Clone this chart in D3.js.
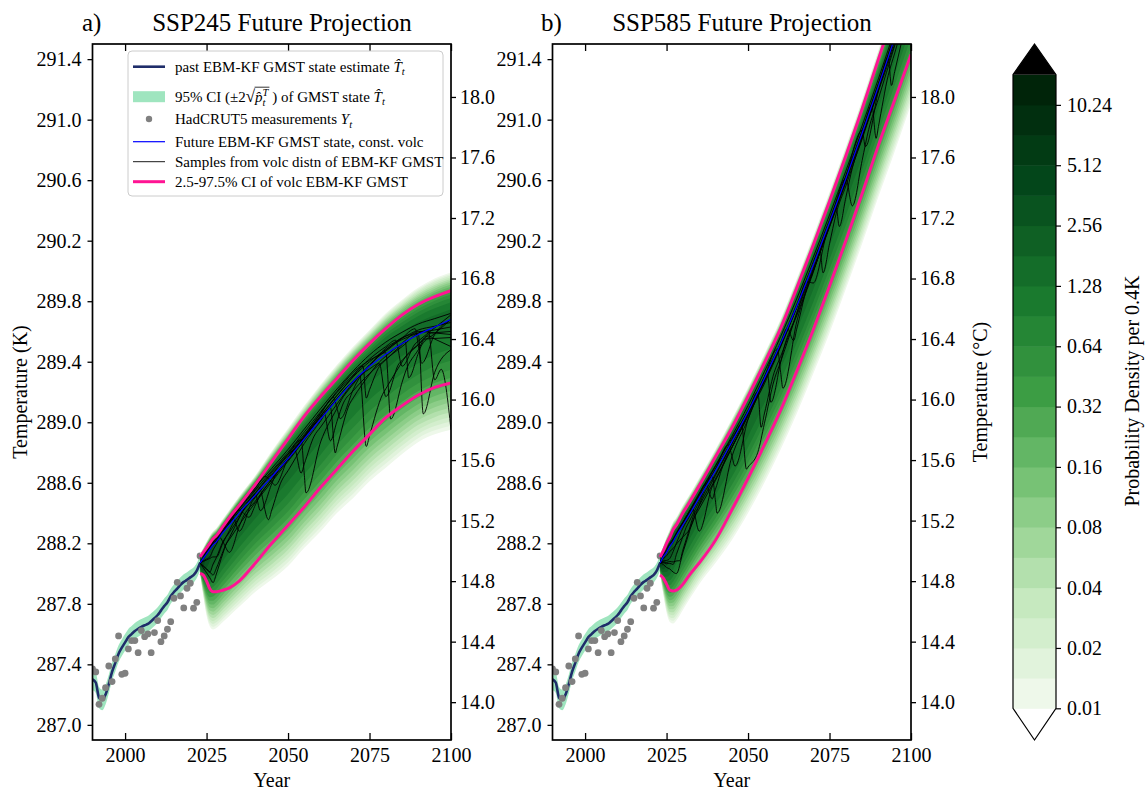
<!DOCTYPE html>
<html>
<head>
<meta charset="utf-8">
<script src="https://cdn.jsdelivr.net/npm/d3@7"></script>
<style>
body { margin: 0; background: #fff; }
text { font-family: "Liberation Serif", "Times New Roman", "DejaVu Serif", serif; fill: #000; white-space: pre; }
</style>
</head>
<body>
<div id="chart"></div>
<script>
// ---------- data ----------
var obsYears = [1990,1991,1992,1993,1994,1995,1996,1997,1998,1999,2000,2001,2002,2003,2004,2005,2006,2007,2008,2009,2010,2011,2012,2013,2014,2015,2016,2017,2018,2019,2020,2021,2022,2023];
var hadcrut = [287.37,287.35,287.136,287.176,287.246,287.389,287.286,287.436,287.588,287.334,287.341,287.502,287.557,287.557,287.477,287.623,287.583,287.601,287.477,287.610,287.689,287.550,287.588,287.632,287.682,287.837,287.942,287.852,287.773,287.903,287.936,287.771,287.810,288.116];
var pastState = [287.30,287.28,287.18,287.165,287.20,287.27,287.35,287.41,287.47,287.51,287.545,287.58,287.60,287.62,287.635,287.648,287.658,287.667,287.685,287.705,287.726,287.755,287.785,287.81,287.85,287.878,287.90,287.925,287.945,287.958,287.975,287.99,288.02,288.07];
var pastCI = [0.07,0.07,0.07,0.068,0.065,0.062,0.06,0.058,0.056,0.055,0.055,0.054,0.054,0.053,0.053,0.052,0.052,0.052,0.052,0.051,0.051,0.051,0.05,0.05,0.05,0.05,0.05,0.05,0.05,0.05,0.05,0.05,0.05,0.05];

var futYears = [2023,2024,2025,2026,2027,2028,2030,2032,2035,2040,2045,2050,2055,2060,2065,2070,2075,2080,2085,2090,2095,2100];

// SSP245
var ciHi245   = [288.11,288.14,288.17,288.20,288.23,288.25,288.31,288.37,288.45,288.59,288.74,288.89,289.04,289.17,289.29,289.41,289.52,289.62,289.71,289.78,289.83,289.87];
var ciLo245   = [288.00,287.99,287.95,287.90,287.88,287.88,287.89,287.905,287.95,288.07,288.20,288.32,288.44,288.57,288.69,288.81,288.92,289.03,289.11,289.18,289.23,289.26];
var mean245   = [288.07,288.10,288.13,288.16,288.19,288.21,288.27,288.32,288.40,288.52,288.64,288.76,288.89,289.02,289.15,289.27,289.37,289.45,289.52,289.58,289.63,289.68];
var mode245   = [288.07,288.10,288.14,288.17,288.20,288.22,288.28,288.34,288.42,288.55,288.67,288.79,288.92,289.05,289.18,289.30,289.40,289.49,289.56,289.62,289.67,289.71];
var top245    = [288.13,288.17,288.21,288.25,288.28,288.30,288.36,288.42,288.51,288.65,288.81,288.96,289.11,289.25,289.38,289.50,289.61,289.72,289.81,289.89,289.95,289.99];
var bottom245 = [288.00,287.85,287.72,287.65,287.63,287.64,287.68,287.72,287.78,287.88,287.96,288.05,288.17,288.28,288.40,288.50,288.61,288.70,288.79,288.87,288.92,288.95];
var peak245   = [8,5,3.6,3.0,2.7,2.5,2.3,2.2,2.0,1.9,1.8,1.75,1.7,1.65,1.6,1.55,1.5,1.5,1.45,1.45,1.4,1.4];

// SSP585
var ciHi585   = [288.11,288.15,288.20,288.24,288.29,288.32,288.40,288.47,288.58,288.77,288.96,289.17,289.39,289.62,289.89,290.17,290.46,290.76,291.07,291.40,291.72,292.05];
var ciLo585   = [287.99,287.97,287.93,287.89,287.885,287.89,287.93,287.99,288.07,288.22,288.42,288.63,288.85,289.08,289.34,289.61,289.90,290.20,290.51,290.83,291.13,291.43];
var mean585   = [288.07,288.11,288.14,288.18,288.21,288.25,288.32,288.39,288.50,288.68,288.87,289.07,289.29,289.52,289.77,290.04,290.32,290.61,290.91,291.22,291.54,291.86];
var mode585   = [288.07,288.11,288.15,288.19,288.23,288.27,288.34,288.41,288.52,288.70,288.89,289.09,289.31,289.54,289.79,290.06,290.34,290.63,290.93,291.24,291.56,291.88];
var top585    = [288.13,288.18,288.24,288.29,288.34,288.37,288.45,288.52,288.63,288.82,289.02,289.23,289.45,289.68,289.95,290.23,290.52,290.82,291.13,291.46,291.78,292.11];
var bottom585 = [288.00,287.86,287.74,287.68,287.67,287.69,287.76,287.83,287.93,288.07,288.22,288.40,288.60,288.82,289.06,289.32,289.59,289.88,290.18,290.49,290.79,291.10];
var peak585   = [8,5,3.6,3.0,2.7,2.5,2.3,2.2,2.1,2.0,1.9,1.85,1.8,1.8,1.75,1.75,1.7,1.7,1.7,1.65,1.65,1.65];

// samples: [year, offset from the const-volc future state]
var samples245 = [
  [[2023,0],[2030,0.03],[2040,0.05],[2050,0.06],[2060,0.07],[2070,0.07],[2080,0.08],[2090,0.07],[2100,0.04]],
  [[2023,0],[2026,-0.05],[2029,0.0],[2036,0.04],[2043,0.05],[2046,-0.08],[2050,0.0],[2062,0.05],[2070,0.06],[2080,0.02],[2089,0.05],[2091,-0.2],[2095,-0.05],[2100,0.0]],
  [[2023,0],[2027,-0.25],[2031,-0.1],[2037,0.0],[2045,0.03],[2055,0.03],[2064,0.04],[2066,-0.15],[2071,-0.03],[2080,0.04],[2090,0.03],[2100,-0.02]],
  [[2023,0],[2025,0.02],[2033,0.03],[2035,-0.12],[2039,-0.02],[2050,0.03],[2054,0.02],[2055.5,-0.37],[2060,-0.15],[2066,-0.04],[2075,0.01],[2085,0.04],[2100,-0.05]],
  [[2023,0],[2028,0.02],[2041,0.03],[2044,-0.26],[2048,-0.1],[2055,-0.03],[2063,0.0],[2064.5,-0.34],[2069,-0.12],[2078,-0.02],[2090,0.02],[2100,-0.1]],
  [[2023,0],[2030,0.01],[2050,0.02],[2072,0.0],[2074,-0.51],[2079,-0.25],[2086,-0.1],[2094,-0.03],[2100,-0.08]],
  [[2023,0],[2028,-0.1],[2033,-0.02],[2052,0.01],[2054,-0.2],[2058,-0.06],[2072,0.0],[2080,0.01],[2081.5,-0.45],[2086,-0.2],[2092,-0.05],[2100,-0.12]],
  [[2023,0],[2026,-0.15],[2030,-0.06],[2040,0.0],[2041.5,-0.14],[2046,-0.02],[2061,0.02],[2063,-0.22],[2067,-0.07],[2085,-0.02],[2090,0.0],[2091.5,-0.54],[2095,-0.3],[2100,-0.2]],
  [[2023,0],[2031,0.03],[2047,0.04],[2060,0.05],[2073,0.04],[2074,-0.19],[2078,-0.05],[2086,0.0],[2087,-0.25],[2091,-0.08],[2100,0.0]],
  [[2023,0],[2029,0.0],[2032,-0.18],[2036,-0.06],[2048,0.0],[2058,0.02],[2069,0.03],[2084,0.03],[2093,0.0],[2095,-0.35],[2097,-0.3],[2100,-0.73]],
  [[2023,0],[2035,0.02],[2038,-0.1],[2042,-0.03],[2057,0.02],[2067,0.03],[2076,0.05],[2083,0.05],[2085,-0.15],[2089,-0.05],[2100,0.03]],
  [[2023,0],[2027,-0.2],[2031,-0.1],[2040,-0.05],[2049,-0.02],[2059,0.0],[2068,0.01],[2078,-0.03],[2080,-0.28],[2084,-0.12],[2093,-0.04],[2100,-0.18]]
];
var samples585 = [
  [[2023,0],[2035,0.03],[2050,0.04],[2065,0.05],[2080,0.05],[2095,0.05],[2100,0.05]],
  [[2023,0],[2027,-0.15],[2031,-0.05],[2039,0.0],[2040.5,-0.3],[2045,-0.1],[2055,0.0],[2070,0.02],[2100,0.02]],
  [[2023,0],[2029,-0.2],[2033,-0.06],[2048,0.0],[2049.5,-0.36],[2053,-0.4],[2058,-0.15],[2066,-0.03],[2085,0.0],[2100,-0.02]],
  [[2023,0],[2030,0.01],[2059,0.01],[2060.7,-0.33],[2065,-0.1],[2075,0.0],[2100,0.03]],
  [[2023,0],[2026,-0.08],[2030,-0.02],[2044,0.02],[2046,-0.2],[2050,-0.05],[2068,0.0],[2070,-0.12],[2074,-0.03],[2088,0.0],[2089.3,-0.3],[2093,-0.12],[2100,-0.05]],
  [[2023,0],[2033,0.0],[2035,-0.22],[2039,-0.07],[2055,0.01],[2062,0.0],[2064,-0.18],[2068,-0.05],[2080,0.0],[2082,-0.3],[2087,-0.1],[2100,-0.02]],
  [[2023,0],[2031,0.02],[2043,0.03],[2056,-0.02],[2057,-0.25],[2061,-0.08],[2077,-0.01],[2078,-0.2],[2082,-0.05],[2096,0.0],[2100,0.0]],
  [[2023,0],[2028,-0.25],[2033,-0.08],[2050,-0.02],[2072,0.0],[2073,-0.22],[2077,-0.06],[2093,0.0],[2094,-0.25],[2100,-0.08]],
  [[2023,0],[2025,0.02],[2037,0.02],[2039,-0.15],[2043,-0.04],[2085,0.02],[2086,-0.15],[2090,-0.03],[2100,0.0]],
  [[2023,0],[2032,-0.1],[2036,-0.03],[2053,0.0],[2054,-0.28],[2058,-0.1],[2066,-0.04],[2084,-0.02],[2100,-0.05]]
];

var kTicks = [287.0,287.4,287.8,288.2,288.6,289.0,289.4,289.8,290.2,290.6,291.0,291.4];
var cTicks = [14.0,14.4,14.8,15.2,15.6,16.0,16.4,16.8,17.2,17.6,18.0];
var yearTicks = [2000,2025,2050,2075,2100];
var cbTicks = [0.01,0.02,0.04,0.08,0.16,0.32,0.64,1.28,2.56,5.12,10.24];
var nBands = 21;   // contour levels 0.01 * sqrt(2)^k

// ---------- layout ----------
var W = 1145, H = 791;
var plotTop = 44, plotBottom = 740;
var serif = '"Liberation Serif", "Times New Roman", serif';
var svg = d3.select('#chart').append('svg').attr('width', W).attr('height', H);

var y = d3.scaleLinear().domain([286.9, 291.5]).range([plotBottom, plotTop]);
var yC = d3.scaleLinear().domain([286.9 - 273.15, 291.5 - 273.15]).range([plotBottom, plotTop]);

var bandColor = d3.scaleLinear()
  .domain([0, 3, 5, 7, 10, 13, 17, 20])
  .range(['#eef8ea', '#c6e9bf', '#a0d79a', '#77c275', '#3c9d44', '#1a7a2e', '#03461a', '#002409']);
function level(k) { return 0.01 * Math.pow(2, k / 2); }

var panels = [
  {id: 'a', left: 92.5, right: 451, label: 'a)', labelX: 82, title: 'SSP245 Future Projection', titleX: 282,
   hi: ciHi245, lo: ciLo245, mean: mean245, mode: mode245, top: top245, bottom: bottom245, peak: peak245, samples: samples245},
  {id: 'b', left: 552.5, right: 911, label: 'b)', labelX: 541, title: 'SSP585 Future Projection', titleX: 742,
   hi: ciHi585, lo: ciLo585, mean: mean585, mode: mode585, top: top585, bottom: bottom585, peak: peak585, samples: samples585}
];

panels.forEach(function(p) {
  var x = d3.scaleLinear().domain([1990, 2100]).range([p.left, p.right]);
  var g = svg.append('g');

  g.append('clipPath').attr('id', 'clip' + p.id)
    .append('rect').attr('x', p.left).attr('y', plotTop)
    .attr('width', p.right - p.left).attr('height', plotBottom - plotTop);
  var inner = g.append('g').attr('clip-path', 'url(#clip' + p.id + ')');

  // past CI band and state
  inner.append('path')
    .datum(obsYears)
    .attr('d', d3.area()
      .x(function(d) { return x(d); })
      .y0(function(d, i) { return y(pastState[i] - pastCI[i]); })
      .y1(function(d, i) { return y(pastState[i] + pastCI[i]); })
      .curve(d3.curveMonotoneX))
    .style('fill', '#9fe5bf');

  inner.append('path')
    .datum(obsYears)
    .attr('d', d3.line()
      .x(function(d) { return x(d); })
      .y(function(d, i) { return y(pastState[i]); })
      .curve(d3.curveMonotoneX))
    .style('fill', 'none').style('stroke', '#1f2d6a').style('stroke-width', 2.6);

  inner.selectAll('.obs').data(obsYears).enter().append('circle')
    .attr('cx', function(d) { return x(d); })
    .attr('cy', function(d, i) { return y(hadcrut[i]); })
    .attr('r', 3.4)
    .style('fill', '#808080');

  // density bands (split gaussian through the read mode / outer edges)
  for (var k = 0; k < nBands; k++) {
    var L = level(k);
    inner.append('path')
      .datum(futYears)
      .attr('d', d3.area()
        .x(function(d) { return x(d); })
        .y0(function(d, i) {
          if (p.peak[i] <= L) return y(p.mode[i]);
          var r = Math.sqrt(2 * Math.log(p.peak[i] / L)) / Math.sqrt(2 * Math.log(p.peak[i] / 0.01));
          return y(p.mode[i] - (p.mode[i] - p.bottom[i]) * r);
        })
        .y1(function(d, i) {
          if (p.peak[i] <= L) return y(p.mode[i]);
          var r = Math.sqrt(2 * Math.log(p.peak[i] / L)) / Math.sqrt(2 * Math.log(p.peak[i] / 0.01));
          return y(p.mode[i] + (p.top[i] - p.mode[i]) * r);
        })
        .curve(d3.curveMonotoneX))
      .style('fill', bandColor(k));
  }

  // volcanic samples: offset knots laid on top of the const-volc state
  var meanAt = d3.scaleLinear().domain(futYears).range(p.mean);
  var sampleLine = d3.line()
    .x(function(d) { return x(d[0]); })
    .y(function(d) { return y(d[1]); })
    .curve(d3.curveMonotoneX);
  inner.selectAll('.sample').data(p.samples).enter().append('path')
    .attr('d', function(s) {
      var off = d3.scaleLinear().domain(s.map(function(d) { return d[0]; })).range(s.map(function(d) { return d[1]; }));
      var yrs = d3.sort(d3.union(s.map(function(d) { return d[0]; }), futYears));
      return sampleLine(yrs.map(function(t) { return [t, meanAt(t) + off(t)]; }));
    })
    .style('fill', 'none').style('stroke', '#000').style('stroke-width', 0.9);

  var futLine = function(arr) {
    return d3.line()
      .x(function(d) { return x(d); })
      .y(function(d, i) { return y(arr[i]); })
      .curve(d3.curveMonotoneX)(futYears);
  };
  inner.append('path').attr('d', futLine(p.mean))
    .style('fill', 'none').style('stroke', '#0000ff').style('stroke-width', 1.2);
  inner.append('path').attr('d', futLine(p.hi))
    .style('fill', 'none').style('stroke', '#ff1493').style('stroke-width', 3);
  inner.append('path').attr('d', futLine(p.lo))
    .style('fill', 'none').style('stroke', '#ff1493').style('stroke-width', 3);

  // axes
  var ax = g.append('g');
  ax.append('g').attr('transform', 'translate(0,' + plotBottom + ')')
    .call(d3.axisBottom(x).tickValues(yearTicks).tickFormat(d3.format('d')).tickSize(-7).tickPadding(7.5));
  ax.append('g').attr('transform', 'translate(0,' + plotTop + ')')
    .call(d3.axisTop(x).tickValues(yearTicks).tickFormat('').tickSize(-7));
  ax.append('g').attr('transform', 'translate(' + p.left + ',0)')
    .call(d3.axisLeft(y).tickValues(kTicks).tickFormat(d3.format('.1f')).tickSize(5).tickPadding(6));
  ax.append('g').attr('transform', 'translate(' + p.right + ',0)')
    .call(d3.axisRight(yC).tickValues(cTicks).tickFormat(d3.format('.1f')).tickSize(5).tickPadding(4));
  ax.selectAll('g').attr('font-family', serif).attr('font-size', 20);
  ax.selectAll('.domain').remove();
  ax.selectAll('.tick line').style('stroke', '#000').style('stroke-width', 1.3);
  ax.selectAll('.tick text').style('font-family', serif).style('font-size', '20px');

  g.append('rect')
    .attr('x', p.left).attr('y', plotTop)
    .attr('width', p.right - p.left).attr('height', plotBottom - plotTop)
    .style('fill', 'none').style('stroke', '#000').style('stroke-width', 1.7);

  g.append('text').attr('x', (p.left + p.right) / 2).attr('y', 787)
    .attr('text-anchor', 'middle').style('font-size', '20px').text('Year');
  g.append('text').attr('x', p.labelX).attr('y', 31).style('font-size', '25px').text(p.label);
  g.append('text').attr('x', p.titleX).attr('y', 31).attr('text-anchor', 'middle')
    .style('font-size', '25px').text(p.title);
});

svg.append('text').attr('transform', 'translate(27,392) rotate(-90)')
  .attr('text-anchor', 'middle').style('font-size', '20px').text('Temperature (K)');
svg.append('text').attr('transform', 'translate(987,392) rotate(-90)')
  .attr('text-anchor', 'middle').style('font-size', '20px').text('Temperature (°C)');

// ---------- legend ----------
var lg = svg.append('g');
lg.append('rect').attr('x', 128).attr('y', 51).attr('width', 315).attr('height', 145).attr('rx', 4)
  .style('fill', '#fff').style('fill-opacity', 0.85).style('stroke', '#cccccc').style('stroke-width', 1);

function richText(g, x0, yb, runs) {
  var cx = x0;
  runs.forEach(function(r) {
    var t = g.append('text').attr('x', cx).attr('y', yb + (r.dy || 0))
      .style('font-size', (r.size || 15) + 'px')
      .style('font-style', r.italic ? 'italic' : 'normal')
      .text(r.t);
    var w = t.node().getComputedTextLength();
    r.x0 = cx; r.x1 = cx + w;
    if (!r.stack) cx += w;
  });
  return runs;
}

var rows = [66.7, 96.7, 119, 141.7, 161.7, 181.7];
lg.append('line').attr('x1', 133).attr('x2', 165).attr('y1', rows[0]).attr('y2', rows[0])
  .style('stroke', '#1f2d6a').style('stroke-width', 2.6);
lg.append('rect').attr('x', 133).attr('y', rows[1] - 5.5).attr('width', 32).attr('height', 11)
  .style('fill', '#9fe5bf');
lg.append('circle').attr('cx', 149).attr('cy', rows[2]).attr('r', 3.2).style('fill', '#808080');
lg.append('line').attr('x1', 133).attr('x2', 165).attr('y1', rows[3]).attr('y2', rows[3])
  .style('stroke', '#0000ff').style('stroke-width', 1.2);
lg.append('line').attr('x1', 133).attr('x2', 165).attr('y1', rows[4]).attr('y2', rows[4])
  .style('stroke', '#000').style('stroke-width', 0.9);
lg.append('line').attr('x1', 133).attr('x2', 165).attr('y1', rows[5]).attr('y2', rows[5])
  .style('stroke', '#ff1493').style('stroke-width', 3);

var tx = 175;
richText(lg, tx, rows[0] + 5, [
  {t: 'past EBM-KF GMST state estimate '},
  {t: 'T\u0302', italic: true},
  {t: 't', italic: true, size: 10.5, dy: 3.5}
]);
var ciRuns = richText(lg, tx, rows[1] + 5, [
  {t: '95% CI (\u00b12'},
  {t: '\u221a', size: 17},
  {t: 'p\u0302', italic: true},
  {t: 't', italic: true, size: 10.5, dy: 4, stack: true},
  {t: 'T', italic: true, size: 10.5, dy: -6},
  {t: ' ) of GMST state '},
  {t: 'T\u0302', italic: true},
  {t: 't', italic: true, size: 10.5, dy: 3.5}
]);
lg.append('line').attr('x1', ciRuns[1].x1 - 0.5).attr('x2', ciRuns[4].x1 + 1)
  .attr('y1', rows[1] - 9.5).attr('y2', rows[1] - 9.5)
  .style('stroke', '#000').style('stroke-width', 0.8);
richText(lg, tx, rows[2] + 5, [
  {t: 'HadCRUT5 measurements '},
  {t: 'Y', italic: true},
  {t: 't', italic: true, size: 10.5, dy: 3.5}
]);
richText(lg, tx, rows[3] + 5, [{t: 'Future EBM-KF GMST state, const. volc'}]);
richText(lg, tx, rows[4] + 5, [{t: 'Samples from volc distn of EBM-KF GMST'}]);
richText(lg, tx, rows[5] + 5, [{t: '2.5-97.5% CI of volc EBM-KF GMST'}]);

// ---------- colorbar ----------
var cbL = 1013, cbR = 1056, cbTop = 74.7, cbBot = 708.3;
var cbY = d3.scaleLog().base(2).domain([0.01, level(nBands)]).range([cbBot, cbTop]);
var cb = svg.append('g');
d3.range(nBands).forEach(function(k) {
  cb.append('rect')
    .attr('x', cbL).attr('width', cbR - cbL)
    .attr('y', cbY(level(k + 1))).attr('height', cbY(level(k)) - cbY(level(k + 1)) + 0.5)
    .style('fill', bandColor(k));
});
cb.append('path')
  .attr('d', 'M' + cbL + ',' + cbTop + 'L' + (cbL + cbR) / 2 + ',' + plotTop + 'L' + cbR + ',' + cbTop + 'Z')
  .style('fill', '#000');
cb.append('path')
  .attr('d', 'M' + cbL + ',' + cbTop + 'L' + (cbL + cbR) / 2 + ',' + plotTop + 'L' + cbR + ',' + cbTop +
        'L' + cbR + ',' + cbBot + 'L' + (cbL + cbR) / 2 + ',' + plotBottom + 'L' + cbL + ',' + cbBot + 'Z')
  .style('fill', 'none').style('stroke', '#000').style('stroke-width', 1.2);
var cbAxis = cb.append('g').attr('transform', 'translate(' + cbR + ',0)')
  .call(d3.axisRight(cbY).tickValues(cbTicks).tickFormat(function(d) { return String(d); }).tickSize(5).tickPadding(6));
cbAxis.attr('font-family', serif).attr('font-size', 20);
cbAxis.select('.domain').remove();
cbAxis.selectAll('.tick line').style('stroke', '#000').style('stroke-width', 1.2);
cbAxis.selectAll('.tick text').style('font-family', serif).style('font-size', '20px');
svg.append('text').attr('transform', 'translate(1139,391) rotate(-90)')
  .attr('text-anchor', 'middle').style('font-size', '20px').text('Probability Density per 0.4K');
</script>
</body>
</html>
